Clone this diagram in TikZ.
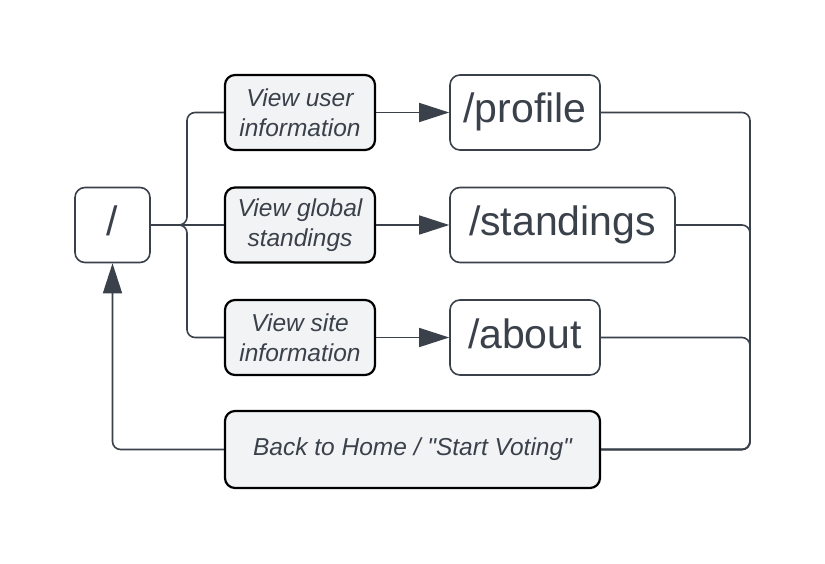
\documentclass[tikz,border=0pt]{standalone}
\usepackage{fontspec}
\setmainfont{Liberation Sans}[Ligatures=TeXOff]
\usetikzlibrary{arrows.meta,positioning}

\definecolor{ink}{HTML}{3A414A}
\definecolor{pale}{HTML}{F2F3F5}

\tikzset{
  page/.style={draw=ink, line width=1.6pt, rounded corners=10pt, fill=white,
    text=ink, minimum height=75pt, inner sep=0pt,
    text height=30pt, text depth=9pt,
    font=\fontsize{41}{48}\selectfont},
  action/.style={draw=black, line width=2.2pt, rounded corners=10pt, fill=pale,
    text=ink, minimum height=75pt, minimum width=150pt, inner sep=0pt,
    align=center, font=\fontsize{24.5}{30}\selectfont\itshape},
  link/.style={draw=ink, line width=1.6pt, rounded corners=8pt},
  go/.style={link, -{Triangle[length=30pt,width=19pt]}}
}

\begin{document}
\begin{tikzpicture}[x=1pt,y=-1pt]
\useasboundingbox (0,0) rectangle (825,564);

\node[page, minimum width=75pt] (root) at (112.5,225) {/};

\node[action] (user) at (300,112.5) {View user\\information};
\node[action] (global) at (300,225) {View global\\standings};
\node[action] (site) at (300,337.5) {View site\\information};

\node[page, minimum width=150pt] (profile) at (525,112.5) {/profile};
\node[page, minimum width=225pt] (standings) at (562.5,225) {/standings};
\node[page, minimum width=150pt] (about) at (525,337.5) {/about};

\node[action, minimum width=375pt, minimum height=77pt] (home) at (412.5,449.5)
  {Back to Home / "Start Voting"};

\coordinate (fork) at (187,225);
\coordinate (bus) at (750,449.5);

% from / to the actions
\draw[link] (root.east) -- (fork) |- (user.west);
\draw[link] (root.east) -- (global.west);
\draw[link] (root.east) -- (fork) |- (site.west);

\draw[go] (user) -- (profile);
\draw[go] (global) -- (standings);
\draw[go] (site) -- (about);

% back home
\draw[link] (profile.east) -| (bus) -- (home.east);
\draw[link] (standings.east) -| (bus) -- (home.east);
\draw[link] (about.east) -| (bus) -- (home.east);
\draw[go] (home.west) -| (root.south);
\end{tikzpicture}
\end{document}
